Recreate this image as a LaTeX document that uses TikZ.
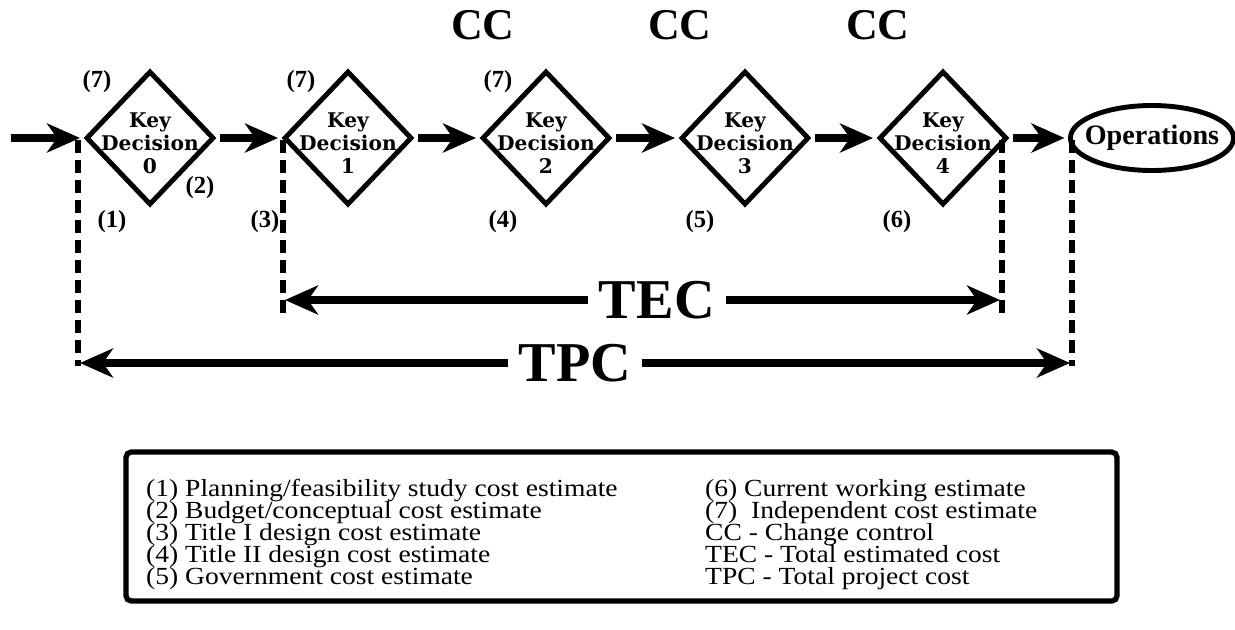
\documentclass[tikz,border=0pt]{standalone}
\usepackage{fontspec}
\setmainfont{Liberation Serif}
\newfontfamily\keyfont{DejaVu Serif}
\newfontfamily\legendfont{Liberation Serif}[FakeStretch=1.12]
\newcommand\legendsize{\legendfont\fontsize{14}{12.6}\selectfont
    \lineskiplimit=-20pt\relax\lineskip=0pt\relax}
\usetikzlibrary{arrows.meta, shapes.geometric}

\begin{document}
\begin{tikzpicture}[
        keydec/.style={diamond, draw, line width=2.8pt, inner sep=0pt,
                      minimum width=2.56cm, minimum height=2.68cm,
                      label={[keytext]center:#1}},
        keytext/.style={align=center, yshift=-0.1cm,
                        font=\keyfont\fontsize{11.5}{13}\selectfont\bfseries},
        ops/.style={ellipse, draw, line width=2.8pt, inner xsep=-0.19cm, inner ysep=0pt,
                    minimum height=1.3cm,
                    font=\fontsize{16}{16}\selectfont\bfseries},
        est/.style={font=\fontsize{14}{14}\selectfont\bfseries},
        cc/.style={font=\fontsize{25}{25}\selectfont\bfseries},
        big/.style={fill=white, inner xsep=0.22cm, inner ysep=0pt,
                    font=\fontsize{32}{32}\selectfont\bfseries},
        arrow/.style={-{Stealth[length=0.66cm, width=0.58cm, inset=0.2cm]},
                      line width=4pt, shorten <=2pt, shorten >=2pt},
        cost/.style={{Stealth[length=0.66cm, width=0.58cm, inset=0.2cm]}-{Stealth[length=0.66cm, width=0.58cm, inset=0.2cm]},
                     line width=4pt},
        phase/.style={line width=3.5pt, dash pattern=on 7.4pt off 4pt},
        legendbox/.style={draw, line width=3pt, rounded corners=3pt,
                          minimum width=19.82cm, minimum height=2.98cm},
        legendtext/.style={align=left, anchor=west, font=\legendsize}
    ]
        \useasboundingbox (0,0) rectangle (24.7,-12.58);

        % Key decisions
        \node[keydec={Key\\Decision\\0}] (k0) at (3.00,-2.76) {};
        \node[keydec={Key\\Decision\\1}] (k1) at (6.96,-2.76) {};
        \node[keydec={Key\\Decision\\2}] (k2) at (10.92,-2.76) {};
        \node[keydec={Key\\Decision\\3}] (k3) at (14.90,-2.76) {};
        \node[keydec={Key\\Decision\\4}] (k4) at (18.86,-2.76) {};
        \node[ops] (ops) at (23.04,-2.76) {Operations};

        % Flow
        \coordinate (in) at (0.14,-2.76);
        \draw[arrow] (in) -- (k0.west);
        \draw[arrow] (k0.east) -- (k1.west);
        \draw[arrow] (k1.east) -- (k2.west);
        \draw[arrow] (k2.east) -- (k3.west);
        \draw[arrow] (k3.east) -- (k4.west);
        \draw[arrow] (k4.east) -- (ops.west);

        % Change control
        \node[cc] (cc2) at (9.66,-0.50) {CC};
        \node[cc] (cc3) at (13.60,-0.50) {CC};
        \node[cc] (cc4) at (17.56,-0.50) {CC};

        % Estimates
        \node[est] (e7a) at (1.94,-1.64) {(7)};
        \node[est] (e7b) at (6.02,-1.64) {(7)};
        \node[est] (e7c) at (9.96,-1.64) {(7)};
        \node[est] (e2) at (4.00,-3.76) {(2)};
        \node[est] (e1) at (2.24,-4.44) {(1)};
        \node[est] (e3) at (5.30,-4.44) {(3)};
        \node[est] (e4) at (10.06,-4.44) {(4)};
        \node[est] (e5) at (14.00,-4.44) {(5)};
        \node[est] (e6) at (17.94,-4.44) {(6)};

        % Phase limits
        \coordinate (d0) at (1.56,-2.80);
        \coordinate (d0b) at (1.56,-7.32);
        \coordinate (d1) at (5.66,-2.80);
        \coordinate (d1b) at (5.66,-6.30);
        \coordinate (d4) at (20.04,-2.80);
        \coordinate (d4b) at (20.04,-6.30);
        \coordinate (d5) at (21.44,-2.80);
        \coordinate (d5b) at (21.44,-7.32);
        \draw[phase] (d0) -- (d0b);
        \draw[phase] (d1) -- (d1b);
        \draw[phase] (d4) -- (d4b);
        \draw[phase] (d5) -- (d5b);

        % Costs
        \coordinate (tecl) at (5.70,-6.00);
        \coordinate (tecr) at (20.00,-6.00);
        \coordinate (tpcl) at (1.60,-7.26);
        \coordinate (tpcr) at (21.40,-7.26);
        \draw[cost] (tecl) -- node[big, pos=0.52] (tec) {TEC} (tecr);
        \draw[cost] (tpcl) -- node[big, pos=0.5] (tpc) {TPC} (tpcr);

        % Legend
        \node[legendbox] (legend) at (12.43,-10.53) {};
        \node[legendtext] (legl) at (2.80,-10.69) {(1) Planning/feasibility study cost estimate\\
            (2) Budget/conceptual cost estimate\\(3) Title I design cost estimate\\
            (4) Title II design cost estimate\\(5) Government cost estimate};
        \node[legendtext] (legr) at (13.98,-10.69) {(6) Current working estimate\\
            (7)~~Independent cost estimate\\CC - Change control\\
            TEC - Total estimated cost\\TPC - Total project cost};
    \end{tikzpicture}
\end{document}
